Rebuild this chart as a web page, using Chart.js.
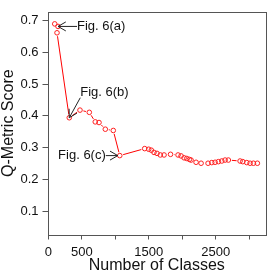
<!DOCTYPE html>
<html>
<head>
<meta charset="utf-8">
<script src="https://cdn.jsdelivr.net/npm/chart.js@4/dist/chart.umd.min.js"></script>
<style>
html,body{margin:0;padding:0;background:#fff;}
#wrap{width:274px;height:274px;}
</style>
</head>
<body>
<div id="wrap"><canvas id="c" width="274" height="274"></canvas></div>
<script>
// ---- data ----
const numClasses = [96, 145, 130, 313, 473, 612, 701, 757, 851, 970, 1067,
  1439, 1499, 1538, 1578, 1623, 1672, 1728, 1825, 1937, 1982, 2027, 2067, 2106, 2131,
  2206, 2281, 2385, 2440, 2490, 2539, 2590, 2639, 2688, 2863, 2903, 2963, 3012, 3062, 3121];
const qScores = [0.689, 0.681, 0.661, 0.394, 0.418, 0.411, 0.381, 0.379, 0.358, 0.354, 0.275,
  0.297, 0.295, 0.292, 0.285, 0.282, 0.277, 0.277, 0.279, 0.277, 0.274, 0.268, 0.266, 0.263, 0.261,
  0.254, 0.251, 0.251, 0.253, 0.254, 0.256, 0.258, 0.261, 0.261, 0.258, 0.256, 0.253, 0.251, 0.251, 0.251];
const xTicks = [0, 500, 1000, 1500, 2000, 2500, 3000];
const xTickLabels = ['0', '500', '', '1500', '', '2500', ''];
const yTicks = [0.1, 0.2, 0.3, 0.4, 0.5, 0.6, 0.7];
const yTickLabels = ['0.1', '0.2', '0.3', '0.4', '0.5', '0.6', '0.7'];
const annotationLabels = ['Fig. 6(a)', 'Fig. 6(b)', 'Fig. 6(c)'];
const annotationIndex = [1, 3, 10];

const FONT = "'Liberation Sans', Arial, Helvetica, sans-serif";
const PR = 2.3;

function drawArrow(ctx, x0, y0, x1, y1) {
  const len = 9, ang = Math.PI / 6;
  const a = Math.atan2(y1 - y0, x1 - x0);
  ctx.beginPath();
  ctx.moveTo(x0, y0); ctx.lineTo(x1, y1);
  ctx.moveTo(x1 - len * Math.cos(a - ang), y1 - len * Math.sin(a - ang));
  ctx.lineTo(x1, y1);
  ctx.lineTo(x1 - len * Math.cos(a + ang), y1 - len * Math.sin(a + ang));
  ctx.stroke();
}

// R type="b": line segments with gaps around the points
const gappedLine = {
  id: 'gappedLine',
  beforeDatasetsDraw(chart) {
    const ctx = chart.ctx;
    const pts = chart.getDatasetMeta(0).data;
    const gap = PR + 1.2;
    ctx.save();
    ctx.strokeStyle = '#ff0000';
    ctx.lineWidth = 1;
    ctx.beginPath();
    for (let i = 1; i < pts.length; i++) {
      const x0 = pts[i - 1].x, y0 = pts[i - 1].y, x1 = pts[i].x, y1 = pts[i].y;
      const d = Math.hypot(x1 - x0, y1 - y0);
      if (d <= 2 * gap + 0.5) continue;
      const ux = (x1 - x0) / d, uy = (y1 - y0) / d;
      ctx.moveTo(x0 + ux * gap, y0 + uy * gap);
      ctx.lineTo(x1 - ux * gap, y1 - uy * gap);
    }
    ctx.stroke();
    ctx.restore();
  }
};

const boxAndNotes = {
  id: 'boxAndNotes',
  afterDatasetsDraw(chart) {
    const ctx = chart.ctx, a = chart.chartArea;
    const xs = chart.scales.x, ys = chart.scales.y;
    ctx.save();
    ctx.strokeStyle = '#555';
    ctx.lineWidth = 1;
    ctx.strokeRect(Math.round(a.left) + 0.5, Math.round(a.top) + 0.5,
      Math.round(a.right - a.left) - 1, Math.round(a.bottom - a.top));
    ctx.strokeStyle = '#222';
    ctx.fillStyle = '#111';
    ctx.font = '13px ' + FONT;
    ctx.textBaseline = 'middle';
    const pts = annotationIndex.map(i => [xs.getPixelForValue(numClasses[i]), ys.getPixelForValue(qScores[i])]);
    // (a)
    let [px, py] = pts[0];
    ctx.textAlign = 'left';
    ctx.fillText(annotationLabels[0], px + 19, py);
    drawArrow(ctx, px + 19, py, px, py);
    // (b)
    [px, py] = pts[1];
    ctx.fillText(annotationLabels[1], px + 11, py - 25);
    drawArrow(ctx, px + 11, py - 20, px, py);
    // (c)
    [px, py] = pts[2];
    ctx.textAlign = 'right';
    ctx.fillText(annotationLabels[2], px - 14, py);
    drawArrow(ctx, px - 14, py, px - 2, py);
    ctx.restore();
  }
};

new Chart(document.getElementById('c'), {
  type: 'scatter',
  data: {
    datasets: [{
      data: numClasses.map((x, i) => ({x: x, y: qScores[i]})),
      showLine: false,
      borderColor: '#ff0000',
      borderWidth: 1,
      pointRadius: PR,
      pointHoverRadius: PR,
      pointBorderWidth: 1,
      pointBorderColor: '#ff2020',
      pointBackgroundColor: 'rgba(255,255,255,0)'
    }]
  },
  options: {
    responsive: false,
    animation: false,
    devicePixelRatio: 1,
    layout: {padding: {left: 0, top: 7, right: 8, bottom: 0}},
    plugins: {legend: {display: false}, tooltip: {enabled: false}},
    scales: {
      x: {
        type: 'linear', min: -12, max: 3250,
        afterBuildTicks: s => { s.ticks = xTicks.map(v => ({value: v})); },
        afterFit: s => { s.height = 39.5; },
        ticks: {
          autoSkip: false, maxRotation: 0, padding: 5, color: '#111',
          font: {family: FONT, size: 13},
          callback: (v) => { const i = xTicks.indexOf(v); return i >= 0 ? xTickLabels[i] : ''; }
        },
        grid: {drawOnChartArea: false, drawTicks: true, tickLength: 5, color: '#555'},
        border: {display: false},
        title: {display: true, text: 'Number of Classes', color: '#111',
          font: {family: FONT, size: 16, lineHeight: 1}, padding: {top: 0, bottom: 0}}
      },
      y: {
        type: 'linear', min: 0.027, max: 0.727,
        afterBuildTicks: s => { s.ticks = yTicks.map(v => ({value: v})); },
        afterFit: s => { s.width = 47.5; },
        ticks: {
          autoSkip: false, padding: 4, color: '#111',
          font: {family: FONT, size: 13},
          callback: (v) => { const i = yTicks.findIndex(t => Math.abs(t - v) < 1e-9); return i >= 0 ? yTickLabels[i] : ''; }
        },
        grid: {drawOnChartArea: false, drawTicks: true, tickLength: 5, color: '#555'},
        border: {display: false},
        title: {display: true, text: 'Q-Metric Score', color: '#111',
          font: {family: FONT, size: 16, lineHeight: 1}, padding: {top: 1, bottom: 0}}
      }
    }
  },
  plugins: [gappedLine, boxAndNotes]
});
</script>
</body>
</html>
